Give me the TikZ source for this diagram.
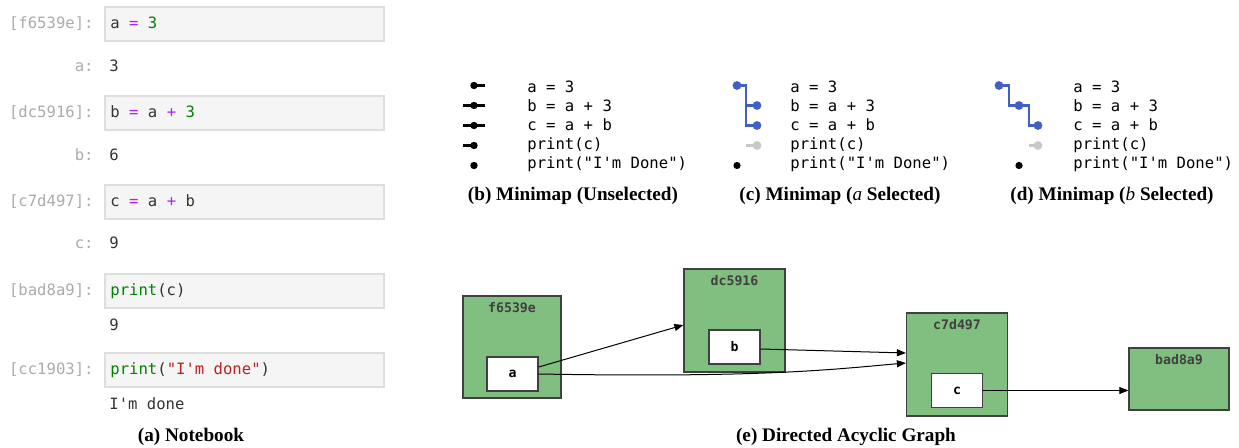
\documentclass[tikz,border=0pt]{standalone}
\usepackage{fontspec}
\setmainfont{Liberation Serif}
\setmonofont{DejaVu Sans Mono}
\usetikzlibrary{arrows.meta,positioning}

\definecolor{nbgray}{HTML}{ABABAB}
\definecolor{nbtext}{HTML}{333333}
\definecolor{cellbg}{HTML}{F5F5F5}
\definecolor{cellline}{HTML}{DEDEDE}
\definecolor{oppurple}{HTML}{AA22FF}
\definecolor{kwgreen}{HTML}{008000}
\definecolor{strred}{HTML}{BA2121}
\definecolor{selblue}{HTML}{4060C8}
\definecolor{fadegray}{HTML}{C8C8C8}
\definecolor{dagfill}{HTML}{80BF7F}
\definecolor{dagline}{HTML}{404040}

\newcommand{\op}[1]{\textcolor{oppurple}{#1}}
\newcommand{\nbnum}[1]{\textcolor{kwgreen}{#1}}
\newcommand{\kw}[1]{\textcolor{kwgreen}{#1}}
\newcommand{\str}[1]{\textcolor{strred}{#1}}

\tikzset{
  mono/.style={font=\fontsize{7.8}{9}\selectfont\ttfamily, inner sep=0pt,
    text height=6pt, text depth=1pt},
  cellbox/.style={anchor=west, draw=cellline, line width=1pt, fill=cellbg,
    minimum width=139.5pt, minimum height=17pt, inner sep=0pt},
  cellcode/.style={mono, anchor=west, text=nbtext, xshift=3pt},
  cellid/.style={mono, anchor=east, text=nbgray},
  cellout/.style={mono, anchor=west, text=nbtext},
  mapline/.style={line width=1.3pt},
  selline/.style={line width=1.15pt, selblue},
  caption/.style={font=\fontsize{9.6}{11}\selectfont\bfseries, inner sep=0pt},
  dagcell/.style={draw=dagline, line width=0.6pt, fill=dagfill},
  dagvar/.style={draw=dagline, line width=0.7pt, fill=white, minimum width=25.5pt,
    minimum height=17pt, font=\fontsize{6.6}{8}\selectfont\ttfamily\bfseries, inner sep=0pt},
  dagtitle/.style={font=\fontsize{6.6}{8}\selectfont\ttfamily\bfseries, text=dagline, inner sep=0pt},
  dagedge/.style={-{Triangle[length=4.5pt,width=3.5pt]}, line width=0.5pt}
}

\begin{document}
\begin{tikzpicture}[x=0.5pt,y=-0.5pt]
  \useasboundingbox (0,0) rectangle (1239,448);

  % (a) notebook
  \node[cellid] (id1) at (94,24) {[f6539e]:};
  \node[cellbox] (cell1) at (104,24) {};
  \node[cellcode] (code1) at (cell1.west) {a \op{=} \nbnum{3}};
  \node[cellid] (lab1) at (94,67) {a:};
  \node[cellout] (out1) at (109,67) {3};

  \node[cellid] (id2) at (94,113) {[dc5916]:};
  \node[cellbox] (cell2) at (104,113) {};
  \node[cellcode] (code2) at (cell2.west) {b \op{=} a \op{+} \nbnum{3}};
  \node[cellid] (lab2) at (94,156) {b:};
  \node[cellout] (out2) at (109,156) {6};

  \node[cellid] (id3) at (94,202) {[c7d497]:};
  \node[cellbox] (cell3) at (104,202) {};
  \node[cellcode] (code3) at (cell3.west) {c \op{=} a \op{+} b};
  \node[cellid] (lab3) at (94,244) {c:};
  \node[cellout] (out3) at (109,244) {9};

  \node[cellid] (id4) at (94,291) {[bad8a9]:};
  \node[cellbox] (cell4) at (104,291) {};
  \node[cellcode] (code4) at (cell4.west) {\kw{print}(c)};
  \node[cellout] (out4) at (109,326) {9};

  \node[cellid] (id5) at (94,370) {[cc1903]:};
  \node[cellbox] (cell5) at (104,370) {};
  \node[cellcode] (code5) at (cell5.west) {\kw{print}(\str{"I'm done"})};
  \node[cellout] (out5) at (109,405) {I'm done};

  \node[caption] (capa) at (191,437) {(a) Notebook};

  % (b) minimap, nothing selected
  \foreach \y/\txt [count=\i] in {88/{a = 3},107/{b = a + 3},126/{c = a + b},
      145/{print(c)},164/{print("I'm Done")}}{
    \node[cellout, text=black] (bt\i) at (527,\y) {\txt};
  }
  \foreach \y [count=\i] in {85.5,105.5,125.5,145.5,165.5}
    \coordinate (bd\i) at (474,\y);
  \draw[mapline] (bd1) -- ++(11,0);
  \draw[mapline] ([xshift=-5.5pt]bd2) -- ++(22,0);
  \draw[mapline] ([xshift=-5.5pt]bd3) -- ++(22,0);
  \draw[mapline] ([xshift=-5.5pt]bd4) -- (bd4);
  \foreach \i in {1,...,5}
    \fill (bd\i) circle (1.85pt);
  \node[caption] (capb) at (573,196) {(b) Minimap (Unselected)};

  % (c) minimap, a selected
  \foreach \y/\txt [count=\i] in {88/{a = 3},107/{b = a + 3},126/{c = a + b},
      145/{print(c)},164/{print("I'm Done")}}{
    \node[cellout, text=black] (ct\i) at (790,\y) {\txt};
  }
  \coordinate (cd1) at (737,85.5);
  \coordinate (cd2) at (757,105.5);
  \coordinate (cd3) at (757,125.5);
  \coordinate (cd4) at (757,145.5);
  \coordinate (cd5) at (737,165.5);
  \draw[selline] (cd1) -| (746,125.5) -- (cd3);
  \draw[selline] (746,105.5) -- (cd2);
  \draw[mapline, fadegray] (746,145.5) -- (cd4);
  \foreach \i in {1,2,3}
    \fill[selblue] (cd\i) circle (2.2pt);
  \fill[fadegray] (cd4) circle (2.2pt);
  \fill (cd5) circle (1.8pt);
  \node[caption] (capc) at (840,196) {(c) Minimap (\textit{\mdseries a} Selected)};

  % (d) minimap, b selected
  \foreach \y/\txt [count=\i] in {88/{a = 3},107/{b = a + 3},126/{c = a + b},
      145/{print(c)},164/{print("I'm Done")}}{
    \node[cellout, text=black] (dt\i) at (1073,\y) {\txt};
  }
  \coordinate (dd1) at (999,85.5);
  \coordinate (dd2) at (1019,105.5);
  \coordinate (dd3) at (1038,125.5);
  \coordinate (dd4) at (1038,145.5);
  \coordinate (dd5) at (1019,165.5);
  \draw[selline] (dd1) -- (1009,85.5) |- (dd2) -- (1029,105.5) |- (dd3);
  \draw[mapline, fadegray] (1029,145.5) -- (dd4);
  \foreach \i in {1,2,3}
    \fill[selblue] (dd\i) circle (2.2pt);
  \fill[fadegray] (dd4) circle (2.2pt);
  \fill (dd5) circle (1.8pt);
  \node[caption] (capd) at (1112,196) {(d) Minimap (\textit{\mdseries b} Selected)};

  % (e) dependency graph
  \node[dagcell, minimum width=49pt, minimum height=51pt] (f6539e) at (512,347) {};
  \node[dagtitle, below=3.5pt of f6539e.north] {f6539e};
  \node[dagvar] (a) at (512.5,374) {a};

  \node[dagcell, minimum width=50.5pt, minimum height=51.5pt] (dc5916) at (734.5,320.5) {};
  \node[dagtitle, below=3.5pt of dc5916.north] {dc5916};
  \node[dagvar] (b) at (734.5,347) {b};

  \node[dagcell, minimum width=50.5pt, minimum height=51.5pt] (c7d497) at (957,364.5) {};
  \node[dagtitle, below=3.5pt of c7d497.north] {c7d497};
  \node[dagvar] (c) at (957,390.5) {c};

  \node[dagcell, minimum width=50pt, minimum height=31pt] (bad8a9) at (1179,379) {};
  \node[dagtitle, below=3.5pt of bad8a9.north] {bad8a9};

  \draw[dagedge] ([yshift=3.5pt]a.east) -- ([yshift=-2.25pt]dc5916.west);
  \draw[dagedge] (a.east) .. controls +(230,4) and +(-70,6) .. ([yshift=0.75pt]c7d497.west);
  \draw[dagedge] ([yshift=-1pt]b.east) -- ([yshift=5.75pt]c7d497.west);
  \draw[dagedge] (c.east) -- (c.east -| bad8a9.west);

  \node[caption] (cape) at (846,437) {(e) Directed Acyclic Graph};
\end{tikzpicture}
\end{document}
